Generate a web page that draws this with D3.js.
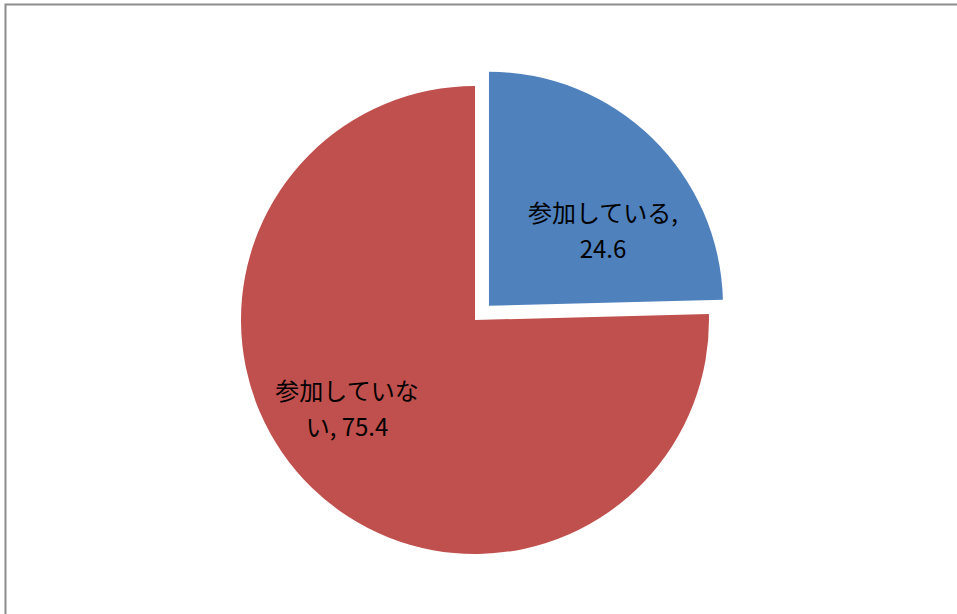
<!DOCTYPE html>
<html>
<head>
<meta charset="utf-8">
<script src="https://cdn.jsdelivr.net/npm/d3@7"></script>
<style>
  body { margin: 0; background: #fff; }
  svg { display: block; }
</style>
</head>
<body>
<div id="chart"></div>
<script>
// data
const categories = ["参加している", "参加していない"];
const values = [24.6, 75.4];
// label lines as they wrap in the picture
const labelLines = [["参加している,", "24.6"], ["参加していな", "い, 75.4"]];
const colors = ["#4F81BD", "#C0504D"];

let width = 957;
let height = 614;

let svg = d3.select("#chart").append("svg").attr("width", width).attr("height", height)

// chart area border (right and bottom run past the window)
svg.append("rect")
    .attr("x", 5.5).attr("y", 4.5)
    .attr("width", width + 20).attr("height", height + 20)
    .attr("fill", "white")
    .attr("stroke", "#8c8c8c")
    .attr("stroke-width", 2)

let cx = 475, cy = 320, radius = 234;
let explode = 20;

let pie = d3.pie().sort(null).value(d => d)
let arcs = pie(values)

let arc = d3.arc().innerRadius(0).outerRadius(radius)
// labels sit a bit past the middle of each slice
let labelArc = d3.arc().innerRadius(146).outerRadius(146)
let shift = 11.7 * Math.PI / 180

let g = svg.append("g").attr("transform", "translate(" + cx + "," + cy + ")")

let slice = g.selectAll("g.slice")
    .data(arcs)
    .enter().append("g")
    .attr("class", "slice")
    .attr("transform", function (d, i) {
        if (i !== 0) return null;
        let mid = (d.startAngle + d.endAngle) / 2;
        return "translate(" + (Math.sin(mid) * explode) + "," + (-Math.cos(mid) * explode) + ")";
    })

slice.append("path")
    .attr("d", arc)
    .attr("fill", (d, i) => colors[i])

let label = slice.append("text")
    .attr("transform", function (d) {
        let c = labelArc.centroid({ startAngle: d.startAngle + shift, endAngle: d.endAngle + shift });
        return "translate(" + (c[0] - 7) + "," + (c[1] + 8) + ")";
    })
    .attr("text-anchor", "middle")
    .style("font-family", "'Noto Sans CJK JP', sans-serif")
    .style("font-size", "24px")
    .attr("fill", "black")

label.selectAll("tspan")
    .data((d, i) => labelLines[i])
    .enter().append("tspan")
    .attr("x", 0)
    .attr("y", (d, j) => (j === 0 ? -18 : 18) + 8)
    .text(d => d)
</script>
</body>
</html>
